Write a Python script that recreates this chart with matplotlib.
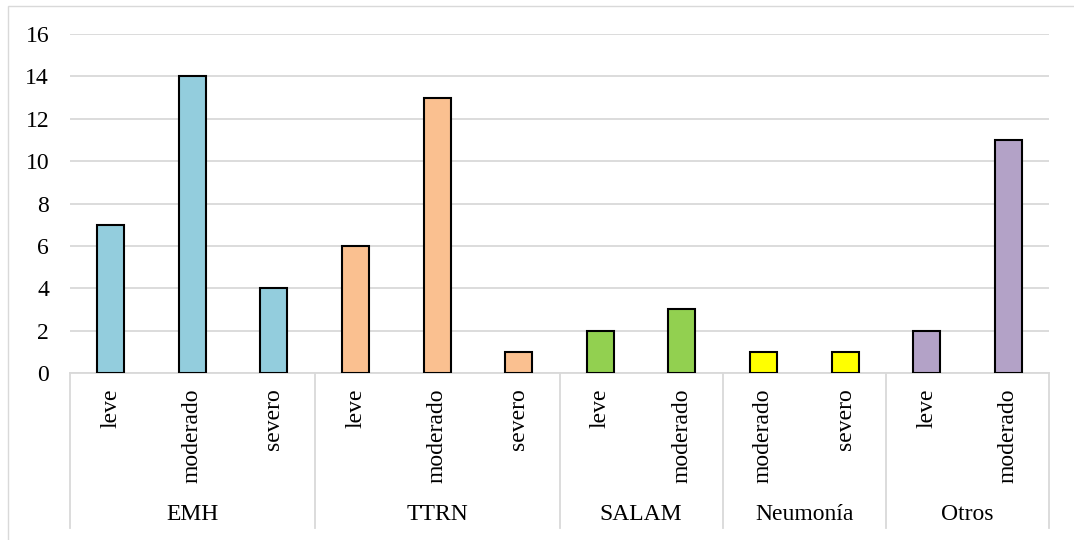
import matplotlib
matplotlib.use("Agg")
import matplotlib.pyplot as plt
from matplotlib.transforms import blended_transform_factory
from matplotlib.lines import Line2D
from matplotlib.patches import Rectangle
import numpy as np

# Diagnoses (outer level) and severity (inner level)
groups = ["EMH", "TTRN", "SALAM", "Neumonía", "Otros"]
severity = [
    ["leve", "moderado", "severo"],
    ["leve", "moderado", "severo"],
    ["leve", "moderado"],
    ["moderado", "severo"],
    ["leve", "moderado"],
]
counts = [
    [7, 14, 4],
    [6, 13, 1],
    [2, 3],
    [1, 1],
    [2, 11],
]
group_colors = ["#93CDDD", "#FAC090", "#92D050", "#FFFF00", "#B3A2C7"]
y_ticks = [0, 2, 4, 6, 8, 10, 12, 14, 16]

plt.rcParams["font.family"] = ["Liberation Serif", "DejaVu Serif"]
W, H = 1074, 540
fig = plt.figure(figsize=(W / 100, H / 100), dpi=100)

# Chart-area border (light grey, top and left visible)
fig.patches.append(Rectangle((8 / W, -0.1), 1.2, 1 - 6 / H + 0.1,
                             transform=fig.transFigure, fill=False,
                             edgecolor="#D9D9D9", linewidth=1.0))

left, right, top, bottom = 70, 1049, 34, 373
ax = fig.add_axes([left / W, 1 - bottom / H, (right - left) / W, (bottom - top) / H])

labels, values, colors = [], [], []
for g, subs, vals, c in zip(groups, severity, counts, group_colors):
    labels += subs
    values += vals
    colors += [c] * len(subs)
x = np.arange(len(values))

ax.bar(x, values, width=0.33, color=colors, edgecolor="black", linewidth=1.5, zorder=3)

ax.set_xlim(-0.5, len(values) - 0.5)
ax.set_ylim(0, 16)
ax.set_yticks(y_ticks)
ax.tick_params(axis="y", length=0, pad=15, labelsize=17)
ax.grid(axis="y", color="#D9D9D9", linewidth=1.3, zorder=0)

ax.set_xticks(x)
ax.set_xticklabels(labels, rotation=90, va="top", ha="center", fontsize=17)
ax.tick_params(axis="x", length=0, pad=11)

for s in ["top", "right", "left"]:
    ax.spines[s].set_visible(False)
ax.spines["bottom"].set_color("#D9D9D9")
ax.spines["bottom"].set_linewidth(1.3)

# Outer category level: separators and group names
trans = blended_transform_factory(ax.transData, ax.transAxes)
axh = bottom - top
sep_bottom = -(528 - bottom) / axh
label_y = -(515 - bottom) / axh
start = 0
bounds = [-0.5]
for g, subs in zip(groups, severity):
    end = start + len(subs)
    bounds.append(end - 0.5)
    ax.text((start + end - 1) / 2, label_y, g, transform=trans,
            ha="center", va="center", fontsize=17)
    start = end
for b in bounds:
    ax.add_line(Line2D([b, b], [0, sep_bottom], transform=trans,
                       color="#D9D9D9", linewidth=1.3, clip_on=False))

fig.savefig("out.png", dpi=100)
